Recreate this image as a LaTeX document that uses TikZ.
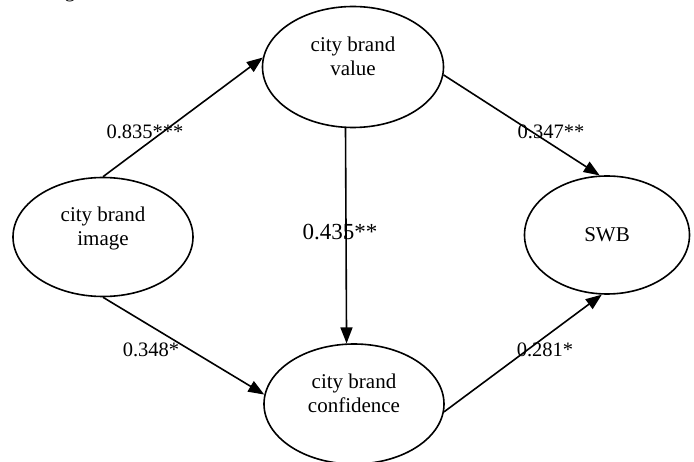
\documentclass[tikz,border=0pt]{standalone}
\usepackage{fontspec}
\setmainfont{Liberation Serif}
\usetikzlibrary{shapes.geometric, arrows.meta}
% two-line construct name, set a little above the ellipse centre
\newcommand{\cname}[2]{\raisebox{3pt}[0pt][0pt]{\begin{tabular}{@{}c@{}}#1\\#2\end{tabular}}}

\begin{document}
\begin{tikzpicture}[x=1pt, y=-1pt, >={Triangle[length=16pt, width=12pt]},
    construct/.style={ellipse, draw, line width=1.6pt, inner sep=0pt,
                      font=\fontsize{21}{24}\selectfont},
    coef/.style={font=\fontsize{20.5}{24}\selectfont, inner sep=0pt},
    link/.style={->, line width=1.6pt}]
  \useasboundingbox (0,0) rectangle (694,462);

  % cut-off caption above the picture
  \node[coef, anchor=base] (cap) at (70,-2) {g};

  % constructs
  \node[construct, minimum width=180pt, minimum height=119pt] (img)  at (103,237) {\cname{city brand}{image}};
  \node[construct, minimum width=181pt, minimum height=121pt] (val)  at (353,67)  {\cname{city brand}{value}};
  \node[construct, minimum width=180pt, minimum height=120pt] (conf) at (354,404) {\cname{city brand}{confidence}};
  \node[construct, minimum width=165pt, minimum height=118pt] (swb)  at (607,235) {SWB};

  % paths
  \draw[link] (img.north) -- (val.174);
  \draw[link] (img.south) -- (conf.174);
  \draw[link] (val.263)   -- (conf.97);
  \draw[link] (val.355)   -- (swb.97);
  \draw[link] (conf.355)  -- (swb.265);

  % path coefficients
  \node[coef] (cImgVal)   at (145,132) {0.835***};
  \node[coef] (cImgConf)  at (151,350) {0.348*};
  \node[coef, font=\fontsize{23}{26}\selectfont] (cValConf) at (340,232) {0.435**};
  \node[coef] (cValSwb)   at (551,132) {0.347**};
  \node[coef] (cConfSwb)  at (545,350) {0.281*};
\end{tikzpicture}
\end{document}
